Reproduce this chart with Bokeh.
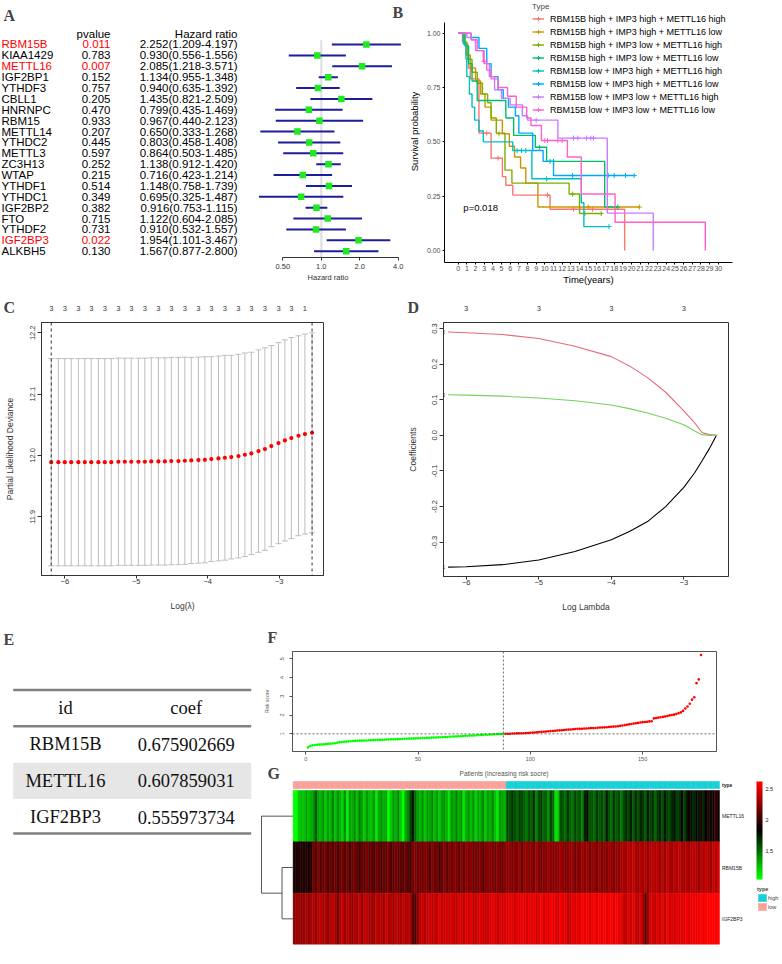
import math
from bokeh.plotting import figure
from bokeh.layouts import row, column
from bokeh.models import (Range1d, FixedTicker, LinearAxis, Span, Whisker, TeeHead,
                          ColumnDataSource, Label, Legend, LegendItem, ColorBar,
                          LinearColorMapper, NumeralTickFormatter)
from bokeh.transform import linear_cmap
from bokeh.core.properties import value
from bokeh.embed import file_html
from bokeh.resources import INLINE

SANS = "Liberation Sans"
SERIF = "Liberation Serif"

# ---------------- Panel A data (univariate Cox) ----------------
genes = ["RBM15B", "KIAA1429", "METTL16", "IGF2BP1", "YTHDF3", "CBLL1", "HNRNPC", "RBM15",
         "METTL14", "YTHDC2", "METTL3", "ZC3H13", "WTAP", "YTHDF1", "YTHDC1", "IGF2BP2",
         "FTO", "YTHDF2", "IGF2BP3", "ALKBH5"]
pvals = [0.011, 0.783, 0.007, 0.152, 0.757, 0.205, 0.470, 0.933, 0.207, 0.445,
         0.597, 0.252, 0.215, 0.514, 0.349, 0.382, 0.715, 0.731, 0.022, 0.130]
hr = [2.252, 0.930, 2.085, 1.134, 0.940, 1.435, 0.799, 0.967, 0.650, 0.803,
      0.864, 1.138, 0.716, 1.148, 0.695, 0.916, 1.122, 0.910, 1.954, 1.567]
hr_low = [1.209, 0.556, 1.218, 0.955, 0.635, 0.821, 0.435, 0.440, 0.333, 0.458,
          0.503, 0.912, 0.423, 0.758, 0.325, 0.753, 0.604, 0.532, 1.101, 0.877]
hr_high = [4.197, 1.556, 3.571, 1.348, 1.392, 2.509, 1.469, 2.123, 1.268, 1.408,
           1.485, 1.420, 1.214, 1.739, 1.487, 1.115, 2.085, 1.557, 3.467, 2.800]
hr_ticks = [0.5, 1, 2, 4]
hr_tick_labels = ["0.50", "1.0", "2.0", "4.0"]

# ---------------- Panel B data (Kaplan-Meier) ----------------
km_groups = ["RBM15B high + IMP3 high + METTL16 high",
             "RBM15B high + IMP3 high + METTL16 low",
             "RBM15B high + IMP3 low + METTL16 high",
             "RBM15B high + IMP3 low + METTL16 low",
             "RBM15B low + IMP3 high + METTL16 high",
             "RBM15B low + IMP3 high + METTL16 low",
             "RBM15B low + IMP3 low + METTL16 high",
             "RBM15B low + IMP3 low + METTL16 low"]
km_colors = ["#F8766D", "#CD9600", "#7CAE00", "#00BE67", "#00BFC4", "#00A9FF", "#C77CFF", "#FF61CC"]
km_time = [
    [0, 0.5, 0.9, 1.2, 1.4, 2.4, 3.8, 5.1, 5.5, 6.3, 10.6, 19.2],
    [0, 0.6, 1.0, 1.4, 2.0, 2.6, 3.1, 3.8, 5.1, 5.9, 6.5, 7.2, 7.8, 9.2, 20.9],
    [0, 0.7, 1.1, 1.6, 2.2, 2.8, 3.4, 3.8, 4.4, 5.4, 6.2, 12.8, 14.0, 16.5],
    [0, 0.8, 1.2, 1.6, 2.2, 5.5, 6.4, 8.9, 10.2, 16.9, 18.4],
    [0, 0.6, 0.9, 1.0, 1.3, 1.6, 1.9, 2.4, 2.9, 6.3, 8.5, 14.2, 14.5, 17.4],
    [0, 1.5, 2.4, 3.3, 3.8, 4.6, 5.2, 5.8, 6.6, 7.0, 8.6, 9.8, 11.0, 20.3],
    [0, 1.0, 1.5, 2.0, 3.0, 3.6, 4.2, 5.0, 6.0, 7.4, 8.0, 11.5, 17.2, 22.5],
    [0, 1.5, 2.2, 2.9, 3.3, 3.8, 4.6, 5.7, 6.7, 7.9, 8.4, 9.6, 12.6, 14.2, 18.1, 28.5],
]
km_surv = [
    [1.0, 0.96, 0.90, 0.84, 0.79, 0.54, 0.425, 0.34, 0.30, 0.255, 0.19, 0.0],
    [1.0, 0.96, 0.90, 0.84, 0.78, 0.72, 0.66, 0.60, 0.537, 0.48, 0.43, 0.38, 0.31, 0.20, 0.20],
    [1.0, 0.95, 0.88, 0.82, 0.77, 0.72, 0.68, 0.61, 0.54, 0.37, 0.31, 0.26, 0.17, 0.17],
    [1.0, 0.94, 0.86, 0.78, 0.69, 0.61, 0.53, 0.475, 0.41, 0.20, 0.20],
    [1.0, 0.95, 0.88, 0.80, 0.72, 0.66, 0.60, 0.55, 0.50, 0.46, 0.33, 0.22, 0.11, 0.11],
    [1.0, 0.98, 0.93, 0.86, 0.80, 0.74, 0.70, 0.66, 0.62, 0.54, 0.46, 0.41, 0.345, 0.345],
    [1.0, 0.98, 0.97, 0.92, 0.86, 0.80, 0.74, 0.70, 0.67, 0.62, 0.60, 0.517, 0.172, 0.0],
    [1.0, 0.97, 0.92, 0.87, 0.83, 0.79, 0.75, 0.71, 0.66, 0.61, 0.575, 0.506, 0.43, 0.26, 0.13, 0.0],
]
cens_time = [
    [3.3, 4.6, 10.3, 13.3, 15.5],
    [4.7, 15.0, 20.9],
    [13.2, 14.6, 16.5],
    [9.4, 10.6, 11.0, 18.4],
    [6.8, 7.3, 7.8, 10.2, 17.4],
    [13.2, 17.3, 18.0, 19.3, 20.3],
    [9.0, 13.3, 13.8, 14.8, 15.3, 15.6],
    [3.0, 10.0, 10.3, 11.5, 12.0],
]
cens_surv = [
    [0.54, 0.425, 0.255, 0.19, 0.19],
    [0.537, 0.20, 0.20],
    [0.26, 0.17, 0.17],
    [0.475, 0.41, 0.41, 0.20],
    [0.46, 0.46, 0.46, 0.33, 0.11],
    [0.345, 0.345, 0.345, 0.345, 0.345],
    [0.60, 0.517, 0.517, 0.517, 0.517, 0.517],
    [0.87, 0.506, 0.506, 0.506, 0.506],
]
km_pvalue = "p=0.018"

# ---------------- Panel C data (cv.glmnet) ----------------
cv_loglam = [-6.19, -6.09, -6.00, -5.91, -5.81, -5.72, -5.63, -5.53, -5.44, -5.35,
             -5.25, -5.16, -5.07, -4.97, -4.88, -4.79, -4.69, -4.60, -4.51, -4.41,
             -4.32, -4.23, -4.13, -4.04, -3.95, -3.85, -3.76, -3.67, -3.57, -3.48,
             -3.39, -3.29, -3.20, -3.11, -3.01, -2.92, -2.83, -2.73, -2.64, -2.54]
cv_mean = [11.989, 11.989, 11.989, 11.989, 11.989, 11.989, 11.989, 11.989, 11.989, 11.989,
           11.9897, 11.9897, 11.9897, 11.9897, 11.9897, 11.9902, 11.9902, 11.9902, 11.9908, 11.9908,
           11.9913, 11.9918, 11.9924, 11.9929, 11.9940, 11.9951, 11.9962, 11.9973, 11.9989, 12.0011,
           12.0033, 12.0071, 12.0103, 12.0152, 12.0201, 12.0245, 12.0283, 12.0321, 12.0348, 12.0370]
cv_sd = [0.169, 0.169, 0.169, 0.169, 0.169, 0.169, 0.169, 0.169, 0.169, 0.169,
         0.169, 0.169, 0.169, 0.169, 0.169, 0.169, 0.169, 0.169, 0.169, 0.169,
         0.169, 0.168, 0.168, 0.168, 0.167, 0.167, 0.167, 0.166, 0.166, 0.166,
         0.165, 0.165, 0.165, 0.164, 0.164, 0.164, 0.164, 0.163, 0.163, 0.163]
cv_nzero = [3, 3, 3, 3, 3, 3, 3, 3, 3, 3, 3, 3, 3, 3, 3, 3, 3, 3, 3, 3,
            3, 3, 3, 3, 3, 3, 3, 3, 3, 3, 3, 3, 3, 3, 3, 3, 3, 3, 1, 1]

# ---------------- Panel D data (coefficient paths) ----------------
path_loglam = [-6.25, -6.0, -5.5, -5.0, -4.5, -4.0, -3.75, -3.5, -3.25, -3.0, -2.85, -2.75, -2.65, -2.55]
coef_1 = [-0.370, -0.369, -0.363, -0.350, -0.326, -0.293, -0.270, -0.242, -0.200, -0.146, -0.105, -0.072, -0.038, 0.0]
coef_2 = [0.290, 0.288, 0.283, 0.272, 0.250, 0.221, 0.195, 0.162, 0.121, 0.069, 0.035, 0.008, 0.002, 0.0]
coef_3 = [0.114, 0.113, 0.110, 0.105, 0.097, 0.085, 0.075, 0.063, 0.048, 0.030, 0.012, 0.002, 0.0, 0.0]
path_top_ticks = [-6, -5, -4, -3]
path_top_nzero = [3, 3, 3, 3]

# ---------------- Panel E data ----------------
model_ids = ["RBM15B", "METTL16", "IGF2BP3"]
model_coefs = [0.675902669, 0.607859031, 0.555973734]

# ---------------- Panel F data (risk score, sorted) ----------------
risk = [0.27, 0.34, 0.38, 0.40, 0.41, 0.42, 0.43, 0.44, 0.45, 0.46,
        0.47, 0.48, 0.49, 0.52, 0.55, 0.56, 0.57, 0.58, 0.59, 0.60,
        0.61, 0.62, 0.62, 0.63, 0.63, 0.64, 0.64, 0.65, 0.65, 0.66,
        0.66, 0.67, 0.67, 0.68, 0.68, 0.69, 0.69, 0.70, 0.70, 0.71,
        0.71, 0.72, 0.72, 0.73, 0.73, 0.74, 0.74, 0.75, 0.75, 0.76,
        0.76, 0.77, 0.77, 0.78, 0.78, 0.79, 0.80, 0.80, 0.81, 0.81,
        0.82, 0.83, 0.83, 0.84, 0.85, 0.85, 0.86, 0.87, 0.87, 0.88,
        0.89, 0.89, 0.90, 0.91, 0.91, 0.92, 0.93, 0.93, 0.94, 0.95,
        0.95, 0.96, 0.96, 0.97, 0.97, 0.98, 0.98, 0.99,
        1.00, 1.00, 1.00, 1.01, 1.01, 1.02, 1.02, 1.03, 1.03, 1.04, 1.04, 1.05,
        1.06, 1.07, 1.08, 1.09, 1.10, 1.11, 1.12, 1.13, 1.14, 1.15,
        1.16, 1.17, 1.18, 1.19, 1.20, 1.21, 1.22, 1.23, 1.24, 1.25,
        1.26, 1.26, 1.27, 1.28, 1.28, 1.29, 1.30, 1.30, 1.31, 1.32,
        1.33, 1.33, 1.34, 1.35, 1.36, 1.37, 1.38, 1.39, 1.40, 1.42,
        1.44, 1.46, 1.48, 1.50, 1.52, 1.54, 1.56, 1.58, 1.60, 1.62,
        1.63, 1.64, 1.66, 1.67, 1.82, 1.84, 1.86, 1.88, 1.90, 1.92,
        1.95, 1.98, 2.00, 2.02, 2.05, 2.10, 2.14, 2.22, 2.35, 2.45,
        2.60, 2.82, 2.95, 3.70, 3.90, 5.20]

# ---------------- Panel G data (heatmap, patients in risk order) ----------------
hm_genes = ["METTL16", "RBM15B", "IGF2BP3"]
expr_mettl16 = [
    1.04, 1.06, 1.22, 1.27, 1.20, 1.32, 1.24, 1.30, 1.37, 1.54, 1.32, 1.27, 1.40, 1.22, 1.34, 1.28,
    1.42, 1.25, 1.36, 1.31, 1.17, 1.39, 1.07, 1.33, 1.29, 1.38, 1.25, 1.44, 1.32, 1.21, 1.35, 1.28,
    1.23, 1.37, 1.12, 1.30, 1.40, 1.26, 1.34, 1.05, 1.22, 1.36, 1.28, 1.42, 1.19, 1.04, 1.31, 1.38,
    1.62, 1.77, 1.50, 1.34, 1.27, 1.39, 1.22, 1.36, 1.30, 1.44, 1.25, 1.37, 1.20, 1.32, 1.41, 1.28,
    1.14, 1.35, 1.29, 1.43, 1.26, 1.38, 1.10, 1.31, 1.36, 1.24, 1.40, 1.18, 1.33, 1.27, 1.42, 1.22,
    1.34, 1.30, 1.38, 1.25, 1.12, 1.37, 1.32, 1.28, 1.63, 1.56, 1.68, 1.60, 1.50, 1.66, 1.58, 1.54,
    1.46, 1.62, 1.53, 1.68, 1.43, 1.58, 1.64, 1.50, 1.56, 1.38, 1.61, 1.52, 1.12, 1.20, 1.59, 1.54,
    1.48, 1.65, 1.57, 1.46, 1.62, 1.51, 1.58, 1.44, 1.70, 1.83, 1.54, 1.60, 1.48, 1.66, 1.57, 1.63,
    1.52, 1.76, 1.59, 1.50, 1.64, 1.56, 1.61, 1.46, 1.58, 1.68, 1.62, 1.73, 1.54, 1.67, 1.60, 1.71,
    1.65, 1.57, 1.74, 1.63, 1.69, 1.52, 1.66, 1.72, 1.60, 1.76, 1.64, 1.58, 1.70, 1.78, 1.62, 1.68,
    1.80, 1.62, 1.73, 1.86, 1.77, 1.69, 1.82, 1.75, 1.89, 1.72, 1.84, 1.94, 1.79, 1.92, 1.99, 1.86]
expr_rbm15b = [
    1.88, 1.91, 1.93, 1.90, 1.95, 1.92, 1.89, 1.94, 2.15, 2.10, 2.18, 2.08, 2.13, 2.20, 2.06, 2.14,
    2.10, 2.17, 2.07, 2.12, 2.19, 2.09, 2.15, 2.05, 2.13, 2.18, 2.10, 2.04, 2.16, 2.11, 2.20, 2.08,
    2.14, 2.06, 2.17, 2.12, 2.03, 2.15, 2.10, 2.18, 2.07, 2.13, 2.19, 2.09, 2.14, 2.05, 2.16, 2.11,
    2.00, 2.18, 2.22, 2.15, 2.20, 2.12, 2.24, 2.17, 2.10, 2.21, 2.14, 2.19, 2.02, 2.16, 2.23, 2.13,
    2.20, 2.15, 2.25, 2.18, 2.12, 2.22, 2.16, 2.24, 2.19, 2.26, 2.14, 2.21, 2.17, 2.23, 2.11, 2.20,
    2.25, 2.18, 2.22, 2.15, 2.27, 2.20, 2.13, 2.24, 2.22, 2.28, 2.18, 2.25, 2.20, 2.30, 2.16, 2.24,
    2.29, 2.21, 2.26, 2.19, 2.31, 2.23, 2.17, 2.27, 2.22, 2.30, 2.25, 2.18, 2.28, 2.21, 2.32, 2.24,
    2.19, 2.27, 2.23, 2.31, 2.16, 2.26, 2.22, 2.29, 2.24, 2.32, 2.20, 2.28, 2.25, 2.18, 2.30, 2.23,
    2.27, 2.21, 2.33, 2.26, 2.22, 2.29, 2.24, 2.31, 2.36, 2.32, 2.38, 2.34, 2.40, 2.35, 2.30, 2.37,
    2.33, 2.39, 2.28, 2.36, 2.41, 2.34, 2.38, 2.32, 2.37, 2.29, 2.40, 2.35, 2.31, 2.38, 2.34, 2.42,
    2.36, 2.30, 2.39, 2.33, 2.37, 2.41, 2.35, 2.28, 2.38, 2.34, 2.43, 2.36, 2.32, 2.40, 2.37, 2.45]
expr_igf2bp3 = [
    2.23, 2.28, 2.33, 2.26, 2.30, 2.36, 2.27, 2.32, 2.38, 2.29, 2.35, 2.41, 2.31, 2.37, 2.26, 2.34,
    2.40, 2.32, 2.20, 2.36, 2.43, 2.30, 2.38, 2.34, 2.27, 2.39, 2.33, 2.44, 2.29, 2.37, 2.41, 2.32,
    2.36, 2.28, 2.42, 2.35, 2.39, 2.31, 2.45, 2.34, 2.38, 2.30, 2.43, 2.36, 2.32, 2.40, 2.35, 2.41,
    2.33, 2.10, 2.05, 2.26, 2.38, 2.44, 2.36, 2.42, 2.48, 2.39, 2.45, 2.37, 2.51, 2.43, 2.40, 2.47,
    2.41, 2.49, 2.44, 2.38, 2.52, 2.46, 2.42, 2.50, 2.45, 2.53, 2.39, 2.48, 2.43, 2.51, 2.46, 2.41,
    2.49, 2.44, 2.54, 2.47, 2.42, 2.50, 2.45, 2.52, 2.48, 2.55, 2.51, 2.46, 2.53, 2.49, 2.57, 2.52,
    2.47, 2.54, 2.50, 2.58, 2.45, 2.52, 2.56, 2.49, 2.53, 2.48, 2.59, 2.51, 2.55, 2.46, 2.57, 2.52,
    2.52, 2.46, 2.42, 2.54, 2.48, 2.55, 2.50, 2.56, 2.53, 2.57, 2.51, 2.55, 2.58, 2.52, 2.56, 2.54,
    2.57, 2.53, 2.55, 2.59, 2.51, 2.56, 2.54, 2.50, 2.46, 2.40, 2.48, 2.43, 2.50, 2.45, 2.38, 2.47,
    2.35, 2.10, 2.30, 2.44, 2.49, 2.42, 2.52, 2.46, 2.50, 2.44, 2.53, 2.47, 2.51, 2.45, 2.55, 2.49,
    2.53, 2.48, 2.56, 2.50, 2.54, 2.58, 2.52, 2.57, 2.59, 2.55, 2.60, 2.58, 2.61, 2.57, 2.60, 2.59]
hm_expr = [expr_mettl16, expr_rbm15b, expr_igf2bp3]
hm_scale = (1.03, 2.62)
hm_legend_ticks = [1.5, 2, 2.5]
dendro_heights = [0.35, 1.0]   # (RBM15B,IGF2BP3) merge, root merge
type_colors = {"low": "#F9A099", "high": "#17CFD7"}

# =====================================================================
def fig(w, h, xr, yr, l, r, t, b, **kw):
    p = figure(width=w, height=h, x_range=xr, y_range=yr,
               min_border_left=l, min_border_right=r, min_border_top=t, min_border_bottom=b,
               output_backend="svg", toolbar_location=None, **kw)
    p.grid.visible = False
    return p


def plain(w, h, xr, yr):
    p = fig(w, h, xr, yr, 0, 0, 0, 0, x_axis_location=None, y_axis_location=None)
    p.outline_line_color = None
    return p


def letter(p, txt, cx, cy):
    """Panel letter at canvas position (cx from left, cy from top)."""
    p.add_layout(Label(x=cx, y=cy, x_units="canvas", y_units="canvas", text=txt,
                       text_font=SERIF, text_font_style="bold", text_font_size="16px",
                       text_baseline="top", text_align="left"))


def style_axis(ax, tick_size, label_size, color="#222222", tick_out=3, standoff=2, label_standoff=4):
    ax.axis_line_color = color
    ax.major_tick_line_color = color
    ax.minor_tick_line_color = None
    ax.major_tick_in = 0
    ax.major_tick_out = tick_out
    ax.major_label_standoff = standoff
    ax.major_label_text_font = SANS
    ax.major_label_text_font_size = tick_size
    ax.major_label_text_color = color
    ax.axis_label_text_font = SANS
    ax.axis_label_text_font_size = label_size
    ax.axis_label_text_font_style = "normal"
    ax.axis_label_text_color = color
    ax.axis_label_standoff = label_standoff


# ---------------- Panel A: table ----------------
n = len(genes)
rows_idx = list(range(n))
txt_col = ["#FF0000" if pv < 0.05 else "#000000" for pv in pvals]
src_a = ColumnDataSource(dict(
    y=rows_idx, gene=genes, ptxt=[f"{pv:.3f}" for pv in pvals],
    hrtxt=[f"{h:.3f}({lo:.3f}-{hi:.3f})" for h, lo, hi in zip(hr, hr_low, hr_high)],
    col=txt_col, hr=hr, lo=hr_low, hi=hr_high))

pa = plain(250, 295, Range1d(0, 250), Range1d(23.07, -4.044))
tkw = dict(text_font=value(SANS), text_font_size="11.5px", text_baseline="middle")
pa.text(x=1, y="y", text="gene", text_color="col", text_align="left", source=src_a, **tkw)
pa.text(x=110, y="y", text="ptxt", text_color="col", text_align="right", source=src_a, **tkw)
pa.text(x=237, y="y", text="hrtxt", text_color="#000000", text_align="right", source=src_a, **tkw)
pa.text(x=[110, 237], y=[-0.95, -0.95], text=["pvalue", "Hazard ratio"], text_color="#000000",
        text_align="right", **tkw)
letter(pa, "A", 3, 6)

# ---------------- Panel A: forest ----------------
pf = fig(155, 295, Range1d(0.279, 4.56), Range1d(19.577, -4.044), 0, 0, 0, 38,
         x_axis_type="log", y_axis_location=None)
pf.outline_line_color = None
pf.segment(x0=1, y0=-0.4, x1=1, y1=n - 0.4, line_color="#dedede", line_width=2)
pf.segment(x0="lo", y0="y", x1="hi", y1="y", source=src_a, line_color="#1d1d9c", line_width=2)
pf.scatter(x="hr", y="y", source=src_a, marker="square", size=6.5, fill_color="#1EEB1E", line_color=None)
xa = pf.xaxis[0]
xa.ticker = FixedTicker(ticks=hr_ticks)
xa.bounds = (hr_ticks[0], hr_ticks[-1])
xa.major_label_overrides = {t: s for t, s in zip(hr_ticks, hr_tick_labels)}
xa.axis_label = "Hazard ratio"
style_axis(xa, "7.5px", "7.5px", color="#333333", tick_out=3, standoff=3, label_standoff=1)
letter(pf, "B", 142, 3)

# ---------------- Panel B ----------------
pb = fig(375, 295, Range1d(-1.575, 31.64), Range1d(-0.0552, 1.1505), 38, 48, 0, 33)
pb.outline_line_color = None
items = []
for k in range(len(km_groups)):
    r = pb.step(x=km_time[k], y=km_surv[k], mode="after", line_color=km_colors[k], line_width=1.4)
    c = pb.scatter(x=cens_time[k], y=cens_surv[k], marker="cross", size=5,
                   line_color=km_colors[k], line_width=1)
    items.append(LegendItem(label=km_groups[k], renderers=[r, c]))
pb.xaxis.ticker = FixedTicker(ticks=list(range(0, 31)))
pb.yaxis.ticker = FixedTicker(ticks=[0, 0.25, 0.5, 0.75, 1.0])
pb.yaxis.bounds = (-0.0552, 1.049)
pb.yaxis.formatter = NumeralTickFormatter(format="0.00")
pb.xaxis.axis_label = "Time(years)"
pb.yaxis.axis_label = "Survival probability"
style_axis(pb.xaxis[0], "7px", "9.5px", color="#000000", tick_out=2, standoff=1, label_standoff=0)
style_axis(pb.yaxis[0], "7px", "9.5px", color="#000000", tick_out=2, standoff=2, label_standoff=4)
pb.xaxis.major_label_text_color = "#4D4D4D"
pb.yaxis.major_label_text_color = "#4D4D4D"
leg = Legend(items=items, title="Type", location=(88, 147),
             label_text_font=SANS, label_text_font_size="9px", label_text_color="#000000",
             title_text_font=SANS, title_text_font_size="8px", title_text_font_style="normal",
             title_standoff=2, glyph_width=12, glyph_height=11, label_height=11, spacing=2,
             label_standoff=6, padding=0, margin=0, border_line_color=None,
             background_fill_alpha=0)
pb.add_layout(leg)
pb.add_layout(Label(x=0.6, y=0.196, text=km_pvalue, text_font=SANS, text_font_size="9.5px",
                    text_baseline="middle", text_color="#000000"))

# ---------------- Panel C ----------------
c_x0, c_x1, c_l, c_r, c_w = -6.326, -2.380, 41, 77, 400
c_pp = (c_x1 - c_x0) / (c_w - c_l - c_r)
hC = plain(c_w, 20, Range1d(c_x0 - c_l * c_pp, c_x1 + c_r * c_pp), Range1d(20, 0))
top_idx = list(range(0, len(cv_loglam), 2))
hC.text(x=[cv_loglam[i] for i in top_idx], y=13, text=[str(cv_nzero[i]) for i in top_idx],
        text_font=value(SANS), text_font_size="7.5px", text_color="#333333",
        text_align="center", text_baseline="middle")
letter(hC, "C", 3, 3)

pc = fig(c_w, 299, Range1d(c_x0, c_x1), Range1d(11.8042, 12.2168), c_l, c_r, 7, 39)
pc.outline_line_color = "#333333"
src_c = ColumnDataSource(dict(lam=cv_loglam, m=cv_mean,
                              up=[a + b for a, b in zip(cv_mean, cv_sd)],
                              dn=[a - b for a, b in zip(cv_mean, cv_sd)]))
wc = "#BDBDBD"
pc.add_layout(Whisker(source=src_c, base="lam", upper="up", lower="dn", line_color=wc, line_width=1,
                      upper_head=TeeHead(size=6, line_color=wc, line_width=1),
                      lower_head=TeeHead(size=6, line_color=wc, line_width=1)))
pc.scatter(x="lam", y="m", source=src_c, size=4.2, fill_color="#FF0000", line_color=None)
pc.add_layout(Span(location=cv_loglam[0], dimension="height", line_dash="3 3", line_color="#333333", line_width=1))
pc.add_layout(Span(location=cv_loglam[-1], dimension="height", line_dash="3 3", line_color="#333333", line_width=1))
pc.xaxis.ticker = FixedTicker(ticks=[-6, -5, -4, -3])
pc.yaxis.ticker = FixedTicker(ticks=[11.9, 12.0, 12.1, 12.2])
pc.yaxis.formatter = NumeralTickFormatter(format="0.0")
pc.xaxis.axis_label = "Log(λ)"
pc.yaxis.axis_label = "Partial Likelihood Deviance"
style_axis(pc.xaxis[0], "7.5px", "8.5px", color="#333333", tick_out=3, standoff=0, label_standoff=14)
style_axis(pc.yaxis[0], "7.5px", "8.5px", color="#333333", tick_out=4, standoff=2, label_standoff=13)
pc.yaxis.major_label_orientation = "vertical"

# ---------------- Panel D ----------------
d_x0, d_x1, d_l, d_r, d_w = -6.313, -2.384, 43, 52, 380
d_pp = (d_x1 - d_x0) / (d_w - d_l - d_r)
hD = plain(d_w, 20, Range1d(d_x0 - d_l * d_pp, d_x1 + d_r * d_pp), Range1d(20, 0))
hD.text(x=path_top_ticks, y=12.7, text=[str(v) for v in path_top_nzero],
        text_font=value(SANS), text_font_size="7.5px", text_color="#333333",
        text_align="center", text_baseline="middle")
letter(hD, "D", 7, 3)

pd_ = fig(d_w, 299, Range1d(d_x0, d_x1), Range1d(-0.3962, 0.3168), d_l, d_r, 7, 37)
pd_.outline_line_color = "#333333"
path_colors = ["#000000", "#E8697A", "#72D35E"]
for cvals, ccol in zip([coef_1, coef_2, coef_3], path_colors):
    pd_.line(x=path_loglam, y=cvals, line_color=ccol, line_width=1.1)
pd_.text(x=[path_loglam[0]] * 3, y=[coef_1[0], coef_2[0], coef_3[0]], text=["1", "2", "3"],
         x_offset=-4, text_font=value(SANS), text_font_size="4.5px", text_color="#555555",
         text_align="center", text_baseline="middle")
pd_.xaxis.ticker = FixedTicker(ticks=[-6, -5, -4, -3])
pd_.yaxis.ticker = FixedTicker(ticks=[-0.3, -0.2, -0.1, 0.0, 0.1, 0.2, 0.3])
pd_.yaxis.formatter = NumeralTickFormatter(format="0.0")
pd_.xaxis.axis_label = "Log Lambda"
pd_.yaxis.axis_label = "Coefficients"
style_axis(pd_.xaxis[0], "7.5px", "8.5px", color="#333333", tick_out=3, standoff=0, label_standoff=14)
style_axis(pd_.yaxis[0], "7.5px", "8.5px", color="#333333", tick_out=4, standoff=2, label_standoff=12)
pd_.yaxis.major_label_orientation = "vertical"

# ---------------- Panel E (table) ----------------
pe = plain(260, 348, Range1d(0, 260), Range1d(7.006, -2.581))
nrow = len(model_ids)
row_pos = list(range(1, nrow + 1))
tab_l, tab_r = 12.7, 250.7
pe.rect(x=(tab_l + tab_r) / 2, y=[r for r in row_pos if r % 2 == 0], width=tab_r - tab_l, height=1,
        fill_color="#E6E6E6", line_color=None)
pe.segment(x0=tab_l, x1=tab_r, y0=[-0.5, 0.5, nrow + 0.45], y1=[-0.5, 0.5, nrow + 0.45],
           line_color="#808080", line_width=2.5)
ekw = dict(text_font=value(SERIF), text_font_size="18.5px", text_baseline="middle",
           text_align="center", text_color="#111111")
pe.text(x=[65, 185.7], y=[0, 0], text=["id", "coef"], **ekw)
pe.text(x=65, y=row_pos, text=model_ids, **ekw)
pe.text(x=185.7, y=row_pos, text=[f"{c:.9f}" for c in model_coefs], **ekw)
letter(pe, "E", 3, 16)

# ---------------- Panel F ----------------
N = len(risk)
srt = sorted(risk)
med = (srt[N // 2 - 1] + srt[N // 2]) / 2
ptype = ["high" if v > med else "low" for v in risk]
n_low = ptype.count("low")
hF = plain(520, 34, Range1d(0, 520), Range1d(34, 0))
letter(hF, "F", 7, 14)

pF = fig(520, 116, Range1d(-5.9, 182.9), Range1d(0.052, 5.39), 31, 64, 3, 13)
pF.outline_line_color = "#555555"
pat = list(range(1, N + 1))
pF.scatter(x=pat, y=risk, size=2.6, line_color=None,
           fill_color=["#00FF00" if t == "low" else "#FF0000" for t in ptype])
pF.add_layout(Span(location=n_low, dimension="height", line_dash="2 2", line_color="#444444", line_width=0.8))
pF.add_layout(Span(location=med, dimension="width", line_dash="2 2", line_color="#444444", line_width=0.8))
pF.xaxis.ticker = FixedTicker(ticks=[0, 50, 100, 150])
pF.yaxis.ticker = FixedTicker(ticks=[1, 2, 3, 4, 5])
pF.yaxis.axis_label = "Risk score"
style_axis(pF.xaxis[0], "5.5px", "6.5px", color="#555555", tick_out=3, standoff=2, label_standoff=5)
style_axis(pF.yaxis[0], "5.5px", "5px", color="#555555", tick_out=3, standoff=5, label_standoff=8)
pF.yaxis.major_label_orientation = "vertical"

# ---------------- Panel G (heatmap) ----------------
px_per_col = 2.4227
row_px = 51.33
g_x0 = -13.96
g_top = 3 + 26 / row_px
pG = fig(520, 198, Range1d(g_x0, g_x0 + 520 / px_per_col), Range1d(0, g_top), 0, 0, 0, 18,
         x_axis_location=None, y_axis_location=None)
pG.outline_line_color = None
palette = []
for k in range(50):
    t = k / 49
    if t < 0.5:
        palette.append("#00%02x00" % int(round(255 * (1 - 2 * t))))
    else:
        palette.append("#%02x0000" % int(round(255 * (2 * t - 1))))
nG = len(hm_genes)
gene_y = {g: nG - 0.5 - k for k, g in enumerate(hm_genes)}
hx, hy, hv = [], [], []
for k, g in enumerate(hm_genes):
    for j, v in enumerate(hm_expr[k]):
        hx.append(j)
        hy.append(gene_y[g])
        hv.append(v)
src_g = ColumnDataSource(dict(x=hx, y=hy, v=hv))
cmap = linear_cmap("v", palette, hm_scale[0], hm_scale[1])
pG.rect(x="x", y="y", width=1, height=1, source=src_g, fill_color=cmap, line_color=cmap, line_width=0.5)
type_y = nG + 0.039 + 0.068
src_t = ColumnDataSource(dict(x=list(range(N)), t=ptype, col=[type_colors[t] for t in ptype]))
tb = pG.rect(x="x", y=type_y, width=1, height=0.136, source=src_t, fill_color="col", line_color="col",
             line_width=0.5)
# dendrogram
scale_d = 13.05
leaf_x = -0.5
sub_x = leaf_x - dendro_heights[0] * scale_d
root_x = leaf_x - dendro_heights[1] * scale_d
sub_y = (gene_y["RBM15B"] + gene_y["IGF2BP3"]) / 2
pG.segment(x0=[leaf_x, root_x, root_x, sub_x, sub_x, sub_x],
           y0=[gene_y["METTL16"], gene_y["METTL16"], sub_y, gene_y["RBM15B"], gene_y["RBM15B"], gene_y["IGF2BP3"]],
           x1=[root_x, root_x, sub_x, sub_x, leaf_x, leaf_x],
           y1=[gene_y["METTL16"], sub_y, sub_y, gene_y["IGF2BP3"], gene_y["RBM15B"], gene_y["IGF2BP3"]],
           line_color="#555555", line_width=1)
gkw = dict(text_font=value(SANS), text_font_size="5px", text_baseline="middle", text_align="left",
           text_color="#222222", x_offset=2.5)
pG.text(x=N - 0.5, y=[gene_y[g] for g in hm_genes], text=hm_genes, **gkw)
pG.text(x=[N - 0.5], y=[type_y], text=["type"], text_font_style="bold", **gkw)
cb = ColorBar(color_mapper=LinearColorMapper(palette=palette, low=hm_scale[0], high=hm_scale[1]),
              ticker=FixedTicker(ticks=hm_legend_ticks), location=(496, 65), width=6, height=98,
              padding=0, margin=0, label_standoff=3, major_tick_line_color=None, bar_line_color=None,
              border_line_color=None, background_fill_alpha=0, major_label_text_font=SANS,
              major_label_text_font_size="5.5px", major_label_text_color="#222222")
pG.add_layout(cb)
first_high = ptype.index("high")
leg_g = Legend(items=[LegendItem(label="high", renderers=[tb], index=first_high),
                      LegendItem(label="low", renderers=[tb], index=0)],
               title="type", location=(497, 33), glyph_width=10, glyph_height=9, label_height=9,
               spacing=0, padding=0, margin=0, label_standoff=1, title_standoff=1,
               label_text_font=SANS, label_text_font_size="5.5px", title_text_font=SANS,
               title_text_font_size="5.5px", title_text_font_style="bold",
               border_line_color=None, background_fill_alpha=0)
pG.add_layout(leg_g)
# x-axis title of panel F sits just above the annotation bar
pG.add_layout(Label(x=(31 + 456) / 2, y=9.3, x_units="canvas", y_units="canvas",
                    text="Patients (increasing risk socre)", text_font=SANS, text_font_size="6.5px",
                    text_color="#555555", text_align="center", text_baseline="middle"))
letter(pG, "G", 7, 0)

layout = column(
    row(column(pa), column(pf), column(pb)),
    row(column(column(hC), column(pc)), column(column(hD), column(pd_))),
    row(column(pe), column(column(hF), column(pF), column(pG))),
)
open("out.html", "w").write(file_html(layout, INLINE))
